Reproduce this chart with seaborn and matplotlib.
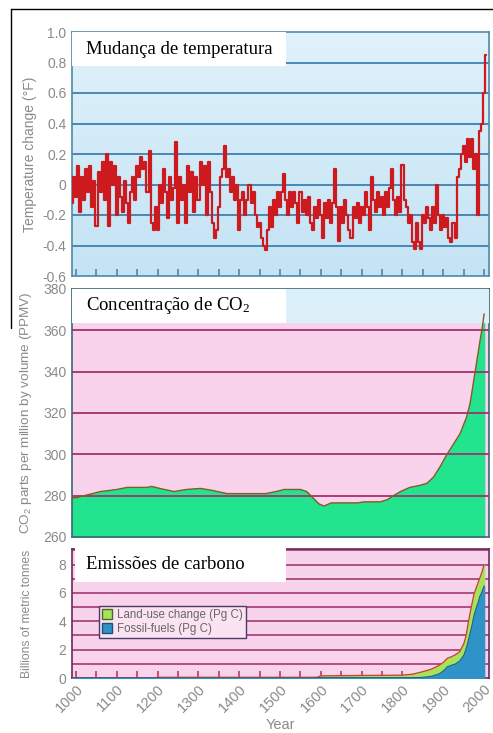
import numpy as np
import pandas as pd
import matplotlib
matplotlib.use("Agg")
import matplotlib.pyplot as plt
import seaborn as sns
from matplotlib.patches import Rectangle, Patch
from matplotlib.lines import Line2D
from matplotlib.colors import LinearSegmentedColormap

# ---------------- data ----------------
temp_years = list(range(990, 2006, 5))
temp_vals = [
    -0.12, 0.05,
    -0.08, 0.12, -0.18, 0.05, -0.10, 0.10, -0.05, 0.12, -0.15, 0.02,
    -0.27, 0.08, -0.05, 0.15, -0.10, 0.20, -0.27, 0.15, 0.00, 0.12,
    -0.20, 0.05, -0.08, -0.18, 0.02, -0.12, -0.25, -0.05, 0.05, -0.10,
    0.12, 0.05, 0.18, 0.10, 0.15, -0.05, 0.22, -0.25, -0.30, -0.15,
    -0.30, 0.00, -0.12, 0.10, -0.05, -0.22, 0.05, -0.10, -0.02, 0.28,
    -0.25, 0.05, -0.10, 0.00, -0.25, 0.12, -0.05, 0.08, -0.18, 0.05,
    -0.10, 0.15, 0.00, 0.12, -0.20, 0.15, -0.05, -0.25, -0.35, -0.30,
    -0.15, 0.05, 0.10, 0.25, 0.05, 0.10, -0.05, 0.05, -0.10, 0.00,
    -0.30, -0.10, -0.05, -0.20, -0.10, 0.00, -0.12, -0.05, -0.20, -0.28,
    -0.25, -0.35, -0.40, -0.43, -0.30, -0.15, -0.28, -0.10, -0.20, -0.05,
    -0.15, -0.05, 0.07, -0.10, -0.20, -0.05, -0.15, -0.05, -0.12, -0.25,
    -0.05, -0.18, -0.10, -0.20, -0.08, -0.25, -0.30, -0.15, -0.22, -0.10,
    -0.20, -0.35, -0.12, -0.22, -0.10, -0.25, -0.12, 0.10, -0.15, -0.37,
    -0.15, -0.25, -0.10, -0.20, -0.30, -0.35, -0.15, -0.22, -0.12, -0.25,
    -0.15, -0.20, -0.05, -0.15, -0.30, 0.05, -0.10, -0.18, -0.05, -0.15,
    -0.08, -0.20, -0.05, -0.15, -0.02, 0.10, -0.10, -0.20, -0.08, -0.18,
    0.13, -0.10, -0.15, -0.25, -0.20, -0.38, -0.42, -0.25, -0.38, -0.42,
    -0.20, -0.25, -0.15, -0.22, -0.30, -0.15, -0.25, 0.00, -0.20, -0.30,
    -0.20, -0.28, -0.22, -0.35, -0.38, -0.25, -0.35, 0.05, 0.10, 0.20,
    0.25, 0.15, 0.30, 0.18, 0.30, 0.10, 0.20, -0.20, 0.35, 0.40,
    0.60, 0.85,
]

co2_years = [990, 1000, 1030, 1060, 1100, 1125, 1150, 1175, 1185, 1205, 1240,
             1270, 1305, 1335, 1370, 1430, 1465, 1490, 1510, 1550, 1565, 1580,
             1595, 1608, 1625, 1690, 1705, 1745, 1762, 1778, 1795, 1818, 1843,
             1860, 1876, 1892, 1909, 1925, 1941, 1957, 1966, 1974, 1982, 1990,
             1996, 2000]
co2_vals = [279, 279, 280.5, 282, 283, 284, 284, 284, 284.5, 283.5, 282,
            283, 283.5, 282.5, 281, 281, 281, 282, 283, 283, 282, 279,
            276, 275, 276.5, 276.5, 277, 277, 278, 280, 282, 284, 285,
            286, 289, 294, 300, 305, 310, 318, 325, 335, 345, 355,
            362, 368]

em_years = [990, 1190, 1200, 1590, 1600, 1700, 1800, 1825, 1850, 1860, 1870,
            1880, 1890, 1900, 1910, 1920, 1930, 1940, 1950, 1955, 1960, 1965,
            1970, 1975, 1980, 1985, 1990, 1995, 2000]
fossil = [0, 0, 0, 0, 0, 0, 0, 0.02, 0.05, 0.08, 0.12,
          0.2, 0.3, 0.5, 0.8, 0.9, 1.0, 1.2, 1.6, 2.0, 2.5, 3.1,
          3.7, 4.4, 4.9, 5.3, 5.8, 6.1, 6.5]
landuse = [0, 0, 0.05, 0.05, 0.15, 0.18, 0.2, 0.25, 0.4, 0.45, 0.5,
           0.55, 0.6, 0.6, 0.6, 0.6, 0.65, 0.65, 0.8, 0.9, 1.2, 1.4,
           1.5, 1.5, 1.4, 1.4, 1.3, 1.4, 1.5]

x_labels = [str(y) for y in range(1000, 2001, 100)]
temp_ticks = ["-0.6", "-0.4", "-0.2", "0", "0.2", "0.4", "0.6", "0.8", "1.0"]
co2_ticks = ["260", "280", "300", "320", "340", "360", "380"]
em_ticks = ["0", "2", "4", "6", "8"]

# ---------------- style ----------------
sns.set_theme(style="white")
plt.rcParams["font.family"] = ["Liberation Sans", "DejaVu Sans"]
plt.rcParams["mathtext.default"] = "regular"

W, H = 493, 733
fig = plt.figure(figsize=(W / 100, H / 100), dpi=100)


def ax_rect(l, t, r, b):
    return [l / W, 1 - b / H, (r - l) / W, (b - t) / H]


ax1 = fig.add_axes(ax_rect(72, 32, 489, 276))
ax2 = fig.add_axes(ax_rect(72, 289, 489, 537))
ax3 = fig.add_axes(ax_rect(72, 549, 489, 678))

XLIM = (990, 2012)
GRAY = "#8a8a8a"

# ---- temperature panel ----
grad = np.linspace(0, 1, 256).reshape(-1, 1)
cmap = LinearSegmentedColormap.from_list("bg", ["#c4e3f4", "#e0f2fb"])
ax1.imshow(grad, extent=[XLIM[0], XLIM[1], -0.6, 1.0], origin="lower",
           aspect="auto", cmap=cmap, zorder=0)
df_t = pd.DataFrame({"year": temp_years, "temp": temp_vals})
sns.lineplot(data=df_t, x="year", y="temp", ax=ax1, color="#cc1a1f",
             lw=1.6, zorder=3, drawstyle="steps-mid")
ax1.set_ylim(-0.6, 1.0)
ax1.set_yticks([float(t) for t in temp_ticks])
ax1.set_yticklabels(temp_ticks)
for v in [-0.4, -0.2, 0, 0.2, 0.4, 0.6, 0.8]:
    ax1.axhline(v, color="#3d80b2", lw=1.3, zorder=2)
for s in ax1.spines.values():
    s.set_color("#4f8aa6")
    s.set_linewidth(1.2)
ax1.set_ylabel("Temperature change (°F)", color=GRAY, fontsize=10)

# ---- CO2 panel ----
ax2.set_facecolor("#f9d3ec")
df_c = pd.DataFrame({"year": co2_years, "co2": co2_vals})
ax2.fill_between(co2_years, 260, co2_vals, color="#22e48f", zorder=2)
sns.lineplot(data=df_c, x="year", y="co2", ax=ax2, color="#8a5a22",
             lw=1.0, zorder=5)
ax2.axhspan(363.8, 380, color="#dcf0fa", zorder=4)
ax2.set_ylim(260, 380)
ax2.set_yticks([float(t) for t in co2_ticks])
ax2.set_yticklabels(co2_ticks)
for v in [280, 300, 320, 340, 360]:
    ax2.axhline(v, color="#a4306e", lw=1.3, zorder=3)
for s in ax2.spines.values():
    s.set_color("#3d6676")
    s.set_linewidth(1.2)
ax2.set_ylabel("CO$_2$ parts per million by volume (PPMV)", color=GRAY,
               fontsize=9.7)

# ---- emissions panel ----
ax3.set_facecolor("#f9d3ec")
total = [f + l for f, l in zip(fossil, landuse)]
for v in range(1, 10):
    ax3.axhline(v, color="#9a2a6a", lw=1.1, zorder=1)
ax3.fill_between(em_years, fossil, total, color="#a6e35a", zorder=2)
ax3.fill_between(em_years, 0, fossil, color="#2f93c8", zorder=3)
df_e = pd.DataFrame({"year": em_years, "total": total, "fossil": fossil})
sns.lineplot(data=df_e, x="year", y="total", ax=ax3, color="#c8402a",
             lw=0.9, zorder=4)
sns.lineplot(data=df_e, x="year", y="fossil", ax=ax3, color="#1f5a8a",
             lw=0.7, zorder=4)
ax3.set_ylim(0, 9.1)
ax3.set_yticks([float(t) for t in em_ticks])
ax3.set_yticklabels(em_ticks)
for s in ax3.spines.values():
    s.set_color("#6a2a5a")
    s.set_linewidth(1.2)
ax3.set_ylabel("Billions of metric tonnes", color=GRAY, fontsize=8.7)
ax3.legend(handles=[Patch(facecolor="#a6e35a", edgecolor="#4a6a2a",
                          label="Land-use change (Pg C)"),
                    Patch(facecolor="#2f93c8", edgecolor="#1f4f7a",
                          label="Fossil-fuels (Pg C)")],
           loc="upper left", bbox_to_anchor=(0.05, 0.605), fontsize=8.3,
           frameon=True, facecolor="#fbe3f1", edgecolor="#4a3a6a",
           fancybox=False, framealpha=1, handlelength=0.9, handleheight=0.9,
           borderpad=0.3, labelspacing=0.15, handletextpad=0.4,
           labelcolor="#666666")

# ---- shared axis styling ----
tick_cols = ["#3d80b2", "#3d6676", "#c02a4a"]
for ax, tc in zip([ax1, ax2, ax3], tick_cols):
    ax.set_xlim(*XLIM)
    ax.set_xticks(list(range(1000, 2001, 100)))
    ax.set_xticks(list(range(1050, 2001, 100)), minor=True)
    ax.tick_params(axis="x", which="both", direction="in", length=5,
                   width=1.1, color=tc, bottom=True, top=False)
    ax.tick_params(axis="y", length=0, pad=4, labelcolor=GRAY, labelsize=10)
    ax.set_xlabel("")
for ax in [ax1, ax2]:
    ax.set_xticklabels([])
ax3.set_xticklabels(x_labels, rotation=45, ha="right",
                    rotation_mode="anchor", color=GRAY, fontsize=10.5)
ax3.tick_params(axis="x", pad=3)
ax3.set_xlabel("Year", color=GRAY, fontsize=10.5, labelpad=2)
ax1.yaxis.set_label_coords(-0.084, 0.5)
ax2.yaxis.set_label_coords(-0.09, 0.5)
ax3.yaxis.set_label_coords(-0.093, 0.5)

# ---- label boxes ----
serif = ["Liberation Serif", "DejaVu Serif"]
boxes = [(72, 32, 286, 66, "Mudança de temperatura"),
         (72, 289, 286, 323, "Concentração de CO$_2$"),
         (75, 547, 286, 582, "Emissões de carbono")]
for l, t, r, b, txt in boxes:
    fig.patches.append(Rectangle((l / W, 1 - b / H), (r - l) / W, (b - t) / H,
                                 transform=fig.transFigure, facecolor="white",
                                 edgecolor="none", zorder=5))
    fig.text(86 / W, 1 - ((t + b) / 2) / H, txt, family=serif, fontsize=13.5,
             color="black", va="center", ha="left", zorder=6)

# ---- black frame lines ----
fig.add_artist(Line2D([11 / W, 11 / W], [1 - 328 / H, 1 - 9 / H],
                      transform=fig.transFigure, color="black", lw=1))
fig.add_artist(Line2D([11 / W, 1], [1 - 9 / H, 1 - 9 / H],
                      transform=fig.transFigure, color="black", lw=1))

fig.savefig("out.png", dpi=100)
